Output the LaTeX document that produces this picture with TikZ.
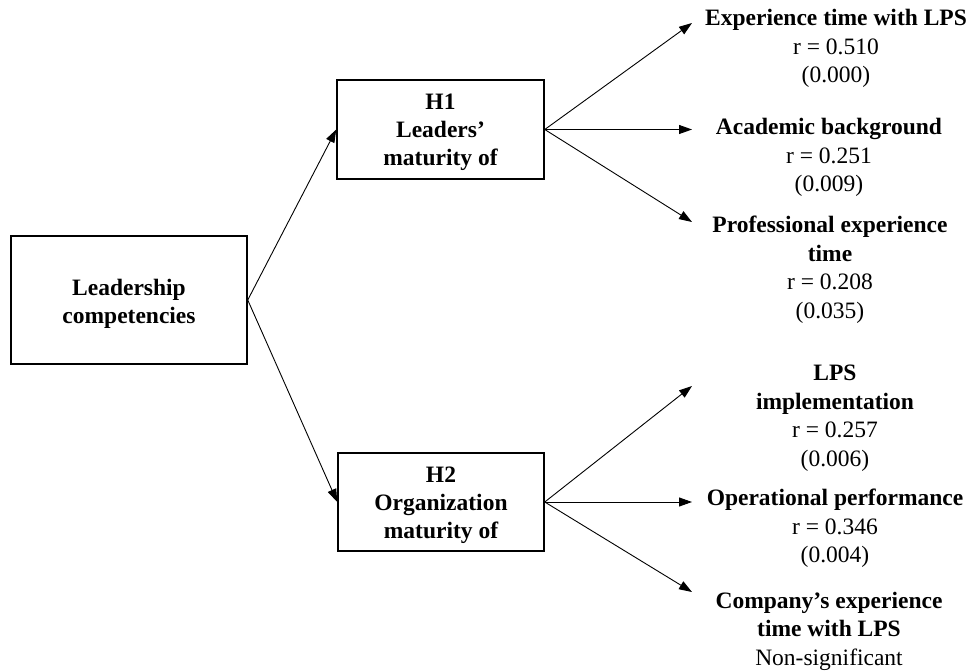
\documentclass[tikz,border=0pt]{standalone}
\usepackage{fontspec}
\setmainfont{Liberation Serif}
\usetikzlibrary{arrows.meta}
\begin{document}
\begin{tikzpicture}[x=1pt,y=-1pt,
  every node/.style={font=\fontsize{23.5}{28.5}\selectfont},
  box/.style={draw, line width=1.5pt, inner sep=0pt},
  boxtext/.style={align=center, inner sep=0pt,
    font=\fontsize{23.5}{28}\selectfont\bfseries},
  lbl/.style={align=center, inner sep=0pt},
  arr/.style={line width=0.9pt, -{Triangle[length=13pt,width=9pt]}}]
\useasboundingbox (0,0) rectangle (970,671);

% main boxes
\node[box, minimum width=236pt, minimum height=128pt] (lead) at (129,300) {};
\node[box, minimum width=207pt, minimum height=99pt] (h1) at (440.5,129.5) {};
\node[box, minimum width=206pt, minimum height=98pt] (h2) at (441,502) {};

% box captions, set a little below the geometric centre
\node[boxtext] (leadt) at ([yshift=-3.5pt]lead.center) {Leadership\\competencies};
\node[boxtext] (h1t) at ([yshift=-3pt]h1.center) {H1\\Leaders’\\maturity of};
\node[boxtext] (h2t) at ([yshift=-3pt]h2.center) {H2\\Organization\\maturity of};

% outcome labels
\node[lbl] (e1) at (836,48.5) {\textbf{Experience time with LPS}\\r = 0.510\\(0.000)};
\node[lbl] (e2) at (829,157.5) {\textbf{Academic background}\\r = 0.251\\(0.009)};
\node[lbl] (e3) at (830,269.5) {\textbf{Professional experience}\\\textbf{time}\\r = 0.208\\(0.035)};
\node[lbl] (e4) at (835,418) {\textbf{LPS}\\\textbf{implementation}\\r = 0.257\\(0.006)};
\node[lbl] (e5) at (835,528.5) {\textbf{Operational performance}\\r = 0.346\\(0.004)};
\node[lbl] (e6) at (829,631) {\textbf{Company’s experience}\\\textbf{time with LPS}\\Non-significant};

% arrow tips in front of the labels
\coordinate (t1) at (692,23);
\coordinate (t2) at (692,129.5);
\coordinate (t3) at (692,222);
\coordinate (t4) at (692,386);
\coordinate (t5) at (692,502);
\coordinate (t6) at (692,592);

% connectors
\draw[arr] (lead.east) -- (h1.west);
\draw[arr] (lead.east) -- (h2.west);
\foreach \t in {t1,t2,t3} \draw[arr] (h1.east) -- (\t);
\foreach \t in {t4,t5,t6} \draw[arr] (h2.east) -- (\t);
\end{tikzpicture}
\end{document}
